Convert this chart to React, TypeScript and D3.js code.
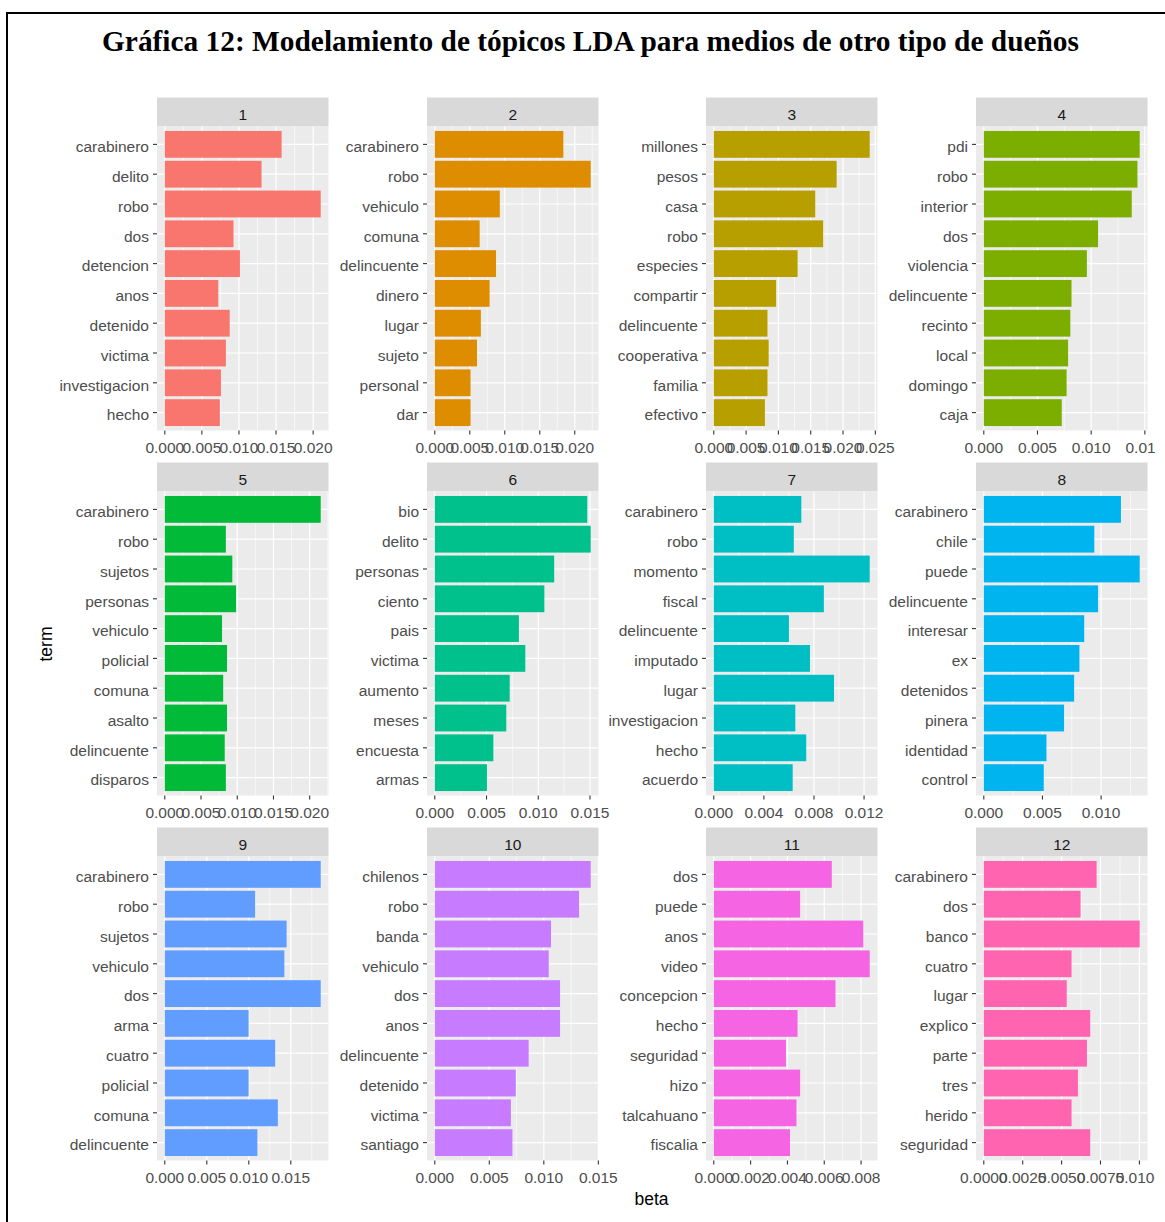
import React from "react";
import * as d3 from "d3";

// Top 10 terms per LDA topic (top to bottom) and their beta values
const terms1 = ["carabinero", "delito", "robo", "dos", "detencion", "anos", "detenido", "victima", "investigacion", "hecho"];
const beta1 = [0.01575, 0.01304, 0.02102, 0.00926, 0.01013, 0.00721, 0.00875, 0.00824, 0.00757, 0.00742];

const terms2 = ["carabinero", "robo", "vehiculo", "comuna", "delincuente", "dinero", "lugar", "sujeto", "personal", "dar"];
const beta2 = [0.01837, 0.02228, 0.00929, 0.00641, 0.00875, 0.00783, 0.00658, 0.00603, 0.00511, 0.00511];

const terms3 = ["millones", "pesos", "casa", "robo", "especies", "compartir", "delincuente", "cooperativa", "familia", "efectivo"];
const beta3 = [0.02413, 0.01901, 0.0157, 0.01692, 0.01297, 0.00965, 0.00831, 0.00849, 0.00831, 0.00791];

const terms4 = ["pdi", "robo", "interior", "dos", "violencia", "delincuente", "recinto", "local", "domingo", "caja"];
const beta4 = [0.01452, 0.01431, 0.01378, 0.01064, 0.0096, 0.00817, 0.00806, 0.00785, 0.00771, 0.00726];

const terms5 = ["carabinero", "robo", "sujetos", "personas", "vehiculo", "policial", "comuna", "asalto", "delincuente", "disparos"];
const beta5 = [0.02152, 0.00843, 0.00932, 0.00984, 0.0079, 0.00859, 0.00806, 0.00859, 0.00827, 0.00843];

const terms6 = ["bio", "delito", "personas", "ciento", "pais", "victima", "aumento", "meses", "encuesta", "armas"];
const beta6 = [0.01474, 0.01507, 0.01154, 0.01059, 0.00813, 0.00875, 0.00724, 0.00691, 0.00566, 0.00504];

const terms7 = ["carabinero", "robo", "momento", "fiscal", "delincuente", "imputado", "lugar", "investigacion", "hecho", "acuerdo"];
const beta7 = [0.00699, 0.00639, 0.01245, 0.00879, 0.006, 0.00768, 0.0096, 0.00651, 0.00738, 0.0063];

const terms8 = ["carabinero", "chile", "puede", "delincuente", "interesar", "ex", "detenidos", "pinera", "identidad", "control"];
const beta8 = [0.01169, 0.00942, 0.01329, 0.00974, 0.00856, 0.00815, 0.0077, 0.00684, 0.00534, 0.00511];

const terms9 = ["carabinero", "robo", "sujetos", "vehiculo", "dos", "arma", "cuatro", "policial", "comuna", "delincuente"];
const beta9 = [0.01856, 0.01075, 0.0145, 0.01423, 0.01856, 0.00998, 0.01314, 0.00998, 0.01346, 0.01102];

const terms10 = ["chilenos", "robo", "banda", "vehiculo", "dos", "anos", "delincuente", "detenido", "victima", "santiago"];
const beta10 = [0.0143, 0.01323, 0.01066, 0.01045, 0.01149, 0.01149, 0.00861, 0.00743, 0.00698, 0.00712];

const terms11 = ["dos", "puede", "anos", "video", "concepcion", "hecho", "seguridad", "hizo", "talcahuano", "fiscalia"];
const beta11 = [0.00641, 0.00469, 0.00812, 0.00847, 0.00661, 0.00455, 0.00392, 0.00469, 0.00449, 0.00414];

const terms12 = ["carabinero", "dos", "banco", "cuatro", "lugar", "explico", "parte", "tres", "herido", "seguridad"];
const beta12 = [0.00725, 0.00622, 0.01002, 0.00564, 0.00533, 0.00684, 0.00663, 0.00605, 0.00564, 0.00684];

// x-axis breaks per panel
const ticksA = [0, 0.005, 0.01, 0.015, 0.02];
const ticks3 = [0, 0.005, 0.01, 0.015, 0.02, 0.025];
const ticksB = [0, 0.005, 0.01, 0.015];
const ticks7 = [0, 0.004, 0.008, 0.012];
const ticks8 = [0, 0.005, 0.01];
const ticks11 = [0, 0.002, 0.004, 0.006, 0.008];
const ticks12 = [0, 0.0025, 0.005, 0.0075, 0.01];

const topics = ["1", "2", "3", "4", "5", "6", "7", "8", "9", "10", "11", "12"];
const colors = ["#F8766D", "#DE8C00", "#B79F00", "#7CAE00", "#00BA38", "#00C08B",
    "#00BFC4", "#00B4F0", "#619CFF", "#C77CFF", "#F564E3", "#FF64B0"];

const panels = [
    { terms: terms1, beta: beta1, ticks: ticksA, digits: 3 },
    { terms: terms2, beta: beta2, ticks: ticksA, digits: 3 },
    { terms: terms3, beta: beta3, ticks: ticks3, digits: 3 },
    { terms: terms4, beta: beta4, ticks: ticksB, digits: 3 },
    { terms: terms5, beta: beta5, ticks: ticksA, digits: 3 },
    { terms: terms6, beta: beta6, ticks: ticksB, digits: 3 },
    { terms: terms7, beta: beta7, ticks: ticks7, digits: 3 },
    { terms: terms8, beta: beta8, ticks: ticks8, digits: 3 },
    { terms: terms9, beta: beta9, ticks: ticksB, digits: 3 },
    { terms: terms10, beta: beta10, ticks: ticksB, digits: 3 },
    { terms: terms11, beta: beta11, ticks: ticks11, digits: 3 },
    { terms: terms12, beta: beta12, ticks: ticks12, digits: 4 },
];

const width = 1165;
const height = 1222;
const colLefts = [157, 427, 706, 976];
const rowTops = [97.5, 462.5, 827.5];
const panelW = 171.5;
const stripH = 29;
const plotH = 304;
const fs = 15.5;
const font = "'Liberation Sans', Arial, sans-serif";

const Panel = ({ idx }) => {
    const p = panels[idx];
    const left = colLefts[idx % 4];
    const top = rowTops[Math.floor(idx / 4)];
    const plotTop = top + stripH;
    const plotBottom = plotTop + plotH;
    const maxB = d3.max(p.beta);

    // ggplot default expansion: 5% each side
    const x = d3.scaleLinear()
        .domain([-0.05 * maxB, 1.05 * maxB])
        .range([left, left + panelW]);
    const y = d3.scaleBand()
        .domain(p.terms)
        .range([plotTop, plotBottom])
        .paddingInner(0.1)
        .paddingOuter(0.15);
    const mid = t => y(t) + y.bandwidth() / 2;

    const step = p.ticks[1] - p.ticks[0];
    const minors = p.ticks.map(t => t + step / 2)
        .concat([p.ticks[0] - step / 2])
        .filter(t => t > x.domain()[0] && t < x.domain()[1]);
    const fmt = d3.format(`.${p.digits}f`);

    return (
        <g>
            <rect x={left} y={top} width={panelW} height={stripH} fill="#D9D9D9" />
            <text x={left + panelW / 2} y={top + stripH / 2 + 7.5} textAnchor="middle"
                fontSize={fs} fill="#1A1A1A">{topics[idx]}</text>
            <rect x={left} y={plotTop} width={panelW} height={plotH} fill="#EBEBEB" />
            {minors.map(t => (
                <line key={"m" + t} x1={x(t)} x2={x(t)} y1={plotTop} y2={plotBottom}
                    stroke="#fff" strokeWidth={0.6} />
            ))}
            {p.ticks.map(t => (
                <line key={"M" + t} x1={x(t)} x2={x(t)} y1={plotTop} y2={plotBottom}
                    stroke="#fff" strokeWidth={1.2} />
            ))}
            {p.terms.map(t => (
                <line key={"h" + t} x1={left} x2={left + panelW} y1={mid(t)} y2={mid(t)}
                    stroke="#fff" strokeWidth={1.2} />
            ))}
            {p.terms.map((t, i) => (
                <rect key={"b" + t} x={x(0)} y={y(t)} width={x(p.beta[i]) - x(0)}
                    height={y.bandwidth()} fill={colors[idx]} />
            ))}
            {p.terms.map(t => (
                <g key={"yl" + t}>
                    <line x1={left - 4} x2={left} y1={mid(t)} y2={mid(t)} stroke="#333" strokeWidth={1.1} />
                    <text x={left - 8} y={mid(t) + 7.8} textAnchor="end"
                        fontSize={fs} fill="#4D4D4D">{t}</text>
                </g>
            ))}
            {p.ticks.map(t => (
                <g key={"xl" + t}>
                    <line x1={x(t)} x2={x(t)} y1={plotBottom} y2={plotBottom + 4}
                        stroke="#333" strokeWidth={1.1} />
                    <text x={x(t)} y={plotBottom + 22.3} textAnchor="middle"
                        fontSize={fs} fill="#4D4D4D">{fmt(t)}</text>
                </g>
            ))}
        </g>
    );
};

const App = () => {
    return (
        <svg width={width} height={height} style={{ position: "absolute", left: 0, top: 0, background: "#fff" }}
            fontFamily={font}>
            <defs>
                <clipPath id="chartClip">
                    <rect x={0} y={0} width={1155} height={height} />
                </clipPath>
            </defs>
            <path d={`M7,${height} L7,13 L${width},13`} fill="none" stroke="#000" strokeWidth={2} />
            <text x={590.5} y={50.5} textAnchor="middle" fontFamily="'Liberation Serif', 'Times New Roman', serif"
                fontWeight="bold" fontSize={28.5} textLength={977} lengthAdjust="spacingAndGlyphs" fill="#000">
                Gráfica 12: Modelamiento de tópicos LDA para medios de otro tipo de dueños
            </text>
            <g clipPath="url(#chartClip)">
                {panels.map((p, i) => <Panel key={i} idx={i} />)}
                <text x={651.5} y={1205} textAnchor="middle" fontSize={17.5} fill="#000">beta</text>
                <text transform="translate(52,644) rotate(-90)" textAnchor="middle"
                    fontSize={17.5} fill="#000">term</text>
            </g>
        </svg>
    );
};

export default App;
